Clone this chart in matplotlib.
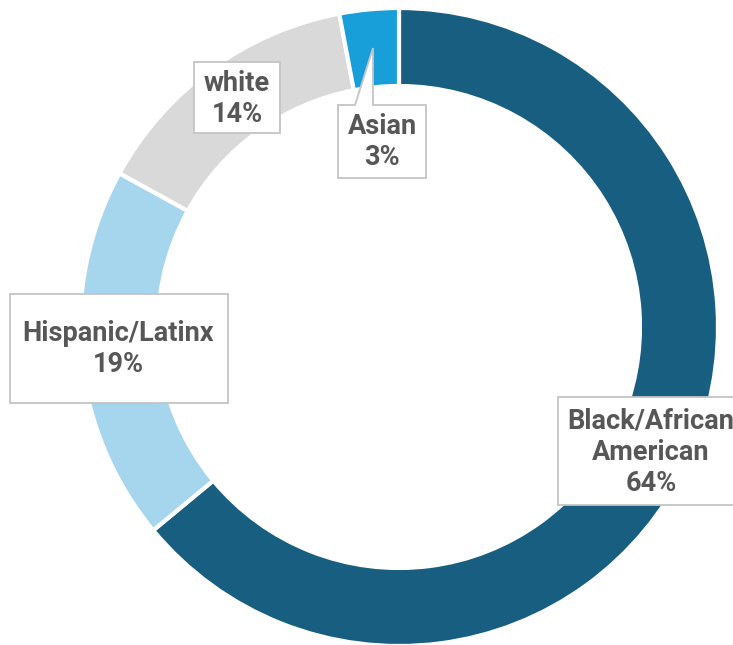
import matplotlib.pyplot as plt
from matplotlib.patches import Polygon

groups = ['Black/African\nAmerican', 'Hispanic/Latinx', 'white', 'Asian']
shares = [64, 19, 14, 3]
colors = ['#175e80', '#a6d6ee', '#d9d9d9', '#189fd9']

W, H = 733, 645
fig = plt.figure(figsize=(W / 100, H / 100), dpi=100)
ax = fig.add_axes([0, 0, 1, 1])

# y axis runs downward (pixel-style coords), so counterclock=True in data
# space draws the slices clockwise from 12 o'clock on screen
ax.pie(shares, colors=colors, center=(399, 327), radius=319,
       startangle=-90, counterclock=True,
       wedgeprops=dict(width=78, edgecolor='white', linewidth=3))
ax.set_xlim(0, W)
ax.set_ylim(H, 0)
ax.set_aspect('equal')
ax.axis('off')

# label boxes: outline (x, y points) and text centre
boxes = [
    [(558, 397), (745, 397), (745, 505), (558, 505)],
    [(10, 294), (228, 294), (228, 403), (10, 403)],
    [(194, 62), (280, 62), (280, 133), (194, 133)],
    # Asian box with callout pointing into its thin slice
    [(338, 178), (338, 105), (355, 105), (373, 48), (373, 105),
     (426, 105), (426, 178)],
]
centres = [(651, 452), (118, 349), (237, 99), (382, 142)]

for grp, pct, pts, (cx, cy) in zip(groups, shares, boxes, centres):
    ax.add_patch(Polygon(pts, closed=True, facecolor='white',
                         edgecolor='#c4c4c4', linewidth=1.3, zorder=3))
    ax.text(cx, cy, f'{grp}\n{pct}%', ha='center', va='center',
            fontsize=19.5, fontweight='bold', color='#575757',
            family='Roboto', linespacing=1.2, zorder=4)

fig.savefig('out.png', dpi=100)
